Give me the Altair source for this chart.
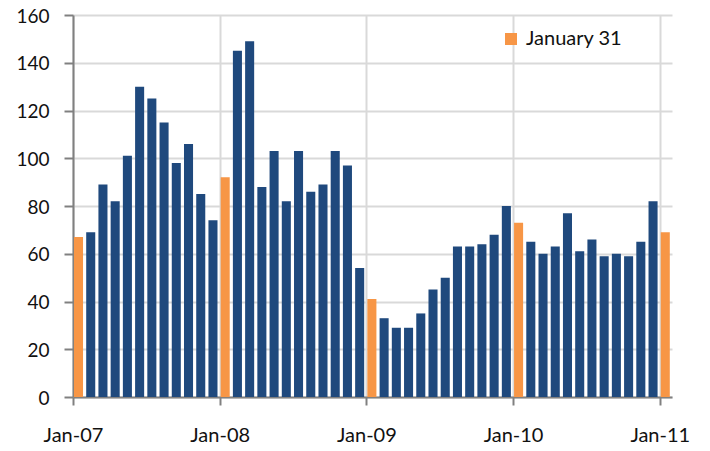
import altair as alt
import pandas as pd

months = [
    "2007-01", "2007-02", "2007-03", "2007-04", "2007-05", "2007-06",
    "2007-07", "2007-08", "2007-09", "2007-10", "2007-11", "2007-12",
    "2008-01", "2008-02", "2008-03", "2008-04", "2008-05", "2008-06",
    "2008-07", "2008-08", "2008-09", "2008-10", "2008-11", "2008-12",
    "2009-01", "2009-02", "2009-03", "2009-04", "2009-05", "2009-06",
    "2009-07", "2009-08", "2009-09", "2009-10", "2009-11", "2009-12",
    "2010-01", "2010-02", "2010-03", "2010-04", "2010-05", "2010-06",
    "2010-07", "2010-08", "2010-09", "2010-10", "2010-11", "2010-12",
    "2011-01",
]
values = [
    67, 69, 89, 82, 101, 130, 125, 115, 98, 106, 85, 74,
    92, 145, 149, 88, 103, 82, 103, 86, 89, 103, 97, 54,
    41, 33, 29, 29, 35, 45, 50, 63, 63, 64, 68, 80,
    73, 65, 60, 63, 77, 61, 66, 59, 60, 59, 65, 82,
    69,
]
tick_labels = ["Jan-07", "Jan-08", "Jan-09", "Jan-10", "Jan-11"]

df = pd.DataFrame({"month": months, "value": values})
df["idx"] = range(len(df))
df["series"] = ["January 31" if m.endswith("-01") else "Other" for m in months]

label_expr = "[" + ",".join(f"'{t}'" for t in tick_labels) + "][round(datum.value/12)]"

FONT = "Lato"

chart = (
    alt.Chart(df)
    .transform_calculate(x0="datum.idx + 0.08", x1="datum.idx + 0.82")
    .mark_bar()
    .encode(
        x=alt.X(
            "x0:Q",
            scale=alt.Scale(domain=[0, 49], nice=False, zero=False),
            axis=alt.Axis(
                values=[0, 12, 24, 36, 48],
                labelExpr=label_expr,
                labelFlush=False,
                title=None,
                grid=True,
                gridColor="#d9d9d9",
                gridWidth=2,
                domainColor="#808080",
                domainWidth=2,
                tickColor="#808080",
                tickWidth=2,
                tickSize=8,
                labelPadding=20,
                labelFont=FONT,
                labelFontSize=20,
                labelColor="#111111",
            ),
        ),
        x2="x1:Q",
        y=alt.Y(
            "value:Q",
            scale=alt.Scale(domain=[0, 160], nice=False),
            axis=alt.Axis(
                values=list(range(0, 161, 20)),
                title=None,
                grid=True,
                gridColor="#d9d9d9",
                gridWidth=2,
                domainColor="#808080",
                domainWidth=2,
                tickColor="#808080",
                tickWidth=2,
                tickSize=9,
                labelPadding=15,
                labelFont=FONT,
                labelFontSize=19,
                labelColor="#111111",
                labelFlush=False,
                labelBaseline="alphabetic",
                labelOffset=7,
            ),
        ),
        y2=alt.datum(0),
        color=alt.Color(
            "series:N",
            scale=alt.Scale(domain=["January 31", "Other"], range=["#F79646", "#1F497D"]),
            legend=alt.Legend(
                values=["January 31"],
                title=None,
                orient="none",
                legendX=428,
                legendY=14,
                symbolType="square",
                symbolSize=144,
                symbolStrokeWidth=0,
                labelFont=FONT,
                labelFontSize=20,
                labelColor="#111111",
                labelOffset=5,
            ),
        ),
    )
    .properties(
        width=599,
        height=382,
        autosize=alt.AutoSizeParams(type="none"),
        padding={"left": 65, "top": 7, "right": 30, "bottom": 54},
    )
    .configure_view(stroke=None)
)

chart.save("out.html", embed_options={"renderer": "svg", "actions": False})
